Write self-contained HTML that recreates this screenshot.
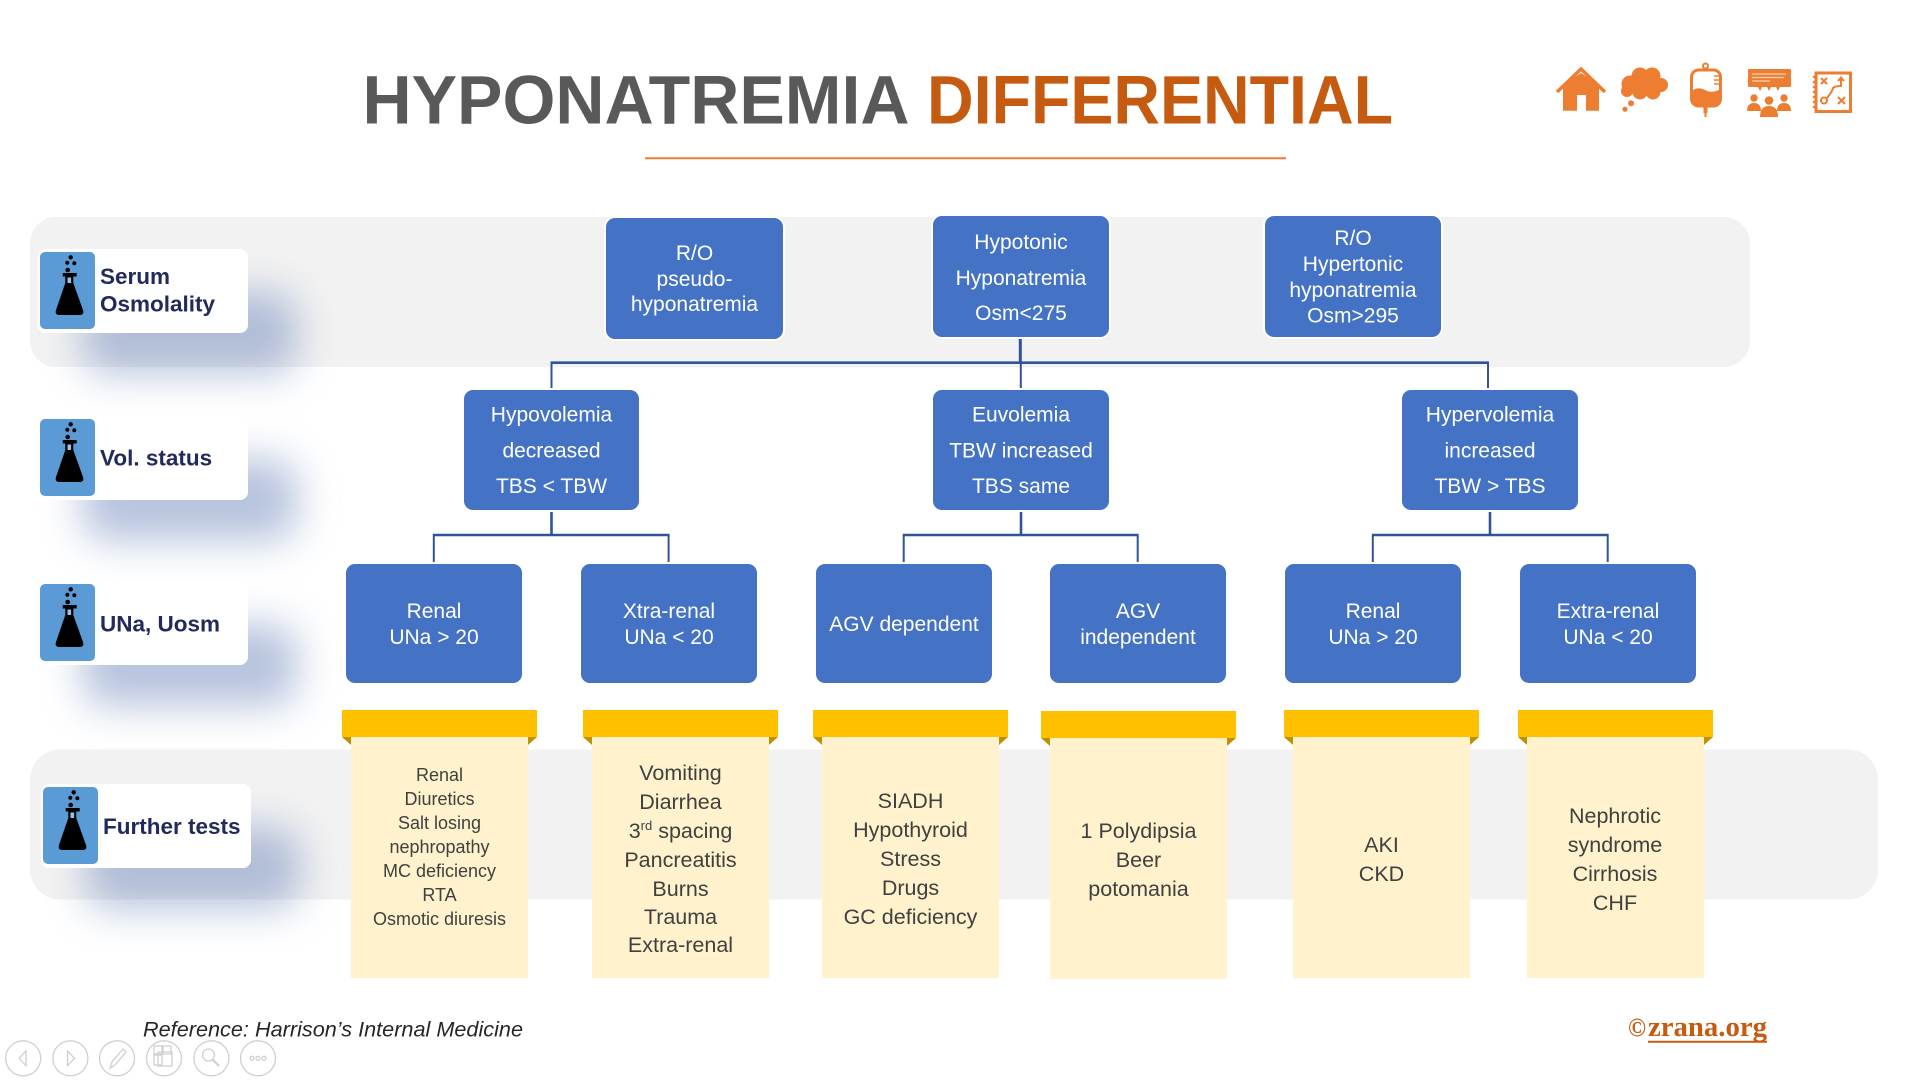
<!DOCTYPE html>
<html>
<head>
<meta charset="utf-8">
<style>
html,body{margin:0;padding:0;background:#fff;}
svg{display:block;}
</style>
</head>
<body>
<svg width="1920" height="1080" viewBox="0 0 1920 1080" xmlns="http://www.w3.org/2000/svg" font-family="'Liberation Sans', sans-serif">
<defs>
  <filter id="sh" x="-80%" y="-80%" width="260%" height="260%">
    <feGaussianBlur stdDeviation="20"/>
  </filter>
  <g id="flask">
    <rect x="0" y="0" width="55" height="77" rx="5" fill="#5B9BD5"/>
    <circle cx="30.7" cy="5.3" r="2.2" fill="#000"/>
    <circle cx="27.3" cy="10.7" r="2" fill="#000"/>
    <circle cx="34.3" cy="11.3" r="2" fill="#000"/>
    <circle cx="27.7" cy="18" r="2.3" fill="#000"/>
    <rect x="22.7" y="21" width="14" height="3.5" fill="#000"/>
    <path d="M25.3,24 L33.3,24 L33.3,31 L43,58 Q44.5,63 39.5,63 L19.5,63 Q14.5,63 16,58 L25.3,31 Z" fill="#000"/>
    <rect x="27.5" y="25.5" width="3.6" height="5.5" fill="#9cc0e6"/>
  </g>
</defs>

<!-- Title -->
<text x="362.5" y="123.3" font-size="69" font-weight="bold" fill="#595959" textLength="547" lengthAdjust="spacingAndGlyphs">HYPONATREMIA</text>
<text x="927" y="123.3" font-size="69" font-weight="bold" fill="#C55A11" textLength="466" lengthAdjust="spacingAndGlyphs">DIFFERENTIAL</text>
<line x1="645" y1="158.3" x2="1286" y2="158.3" stroke="#ED7D31" stroke-width="2"/>

<!-- Top-right icons -->
<g fill="#ED7D31" stroke="none">
  <!-- house -->
  <polyline points="1557,92 1581,69 1605,92" fill="none" stroke="#ED7D31" stroke-width="3.5"/>
  <polygon points="1563,110.7 1563,85 1581,73 1599,85 1599,110.7"/>
  <rect x="1577" y="95" width="9" height="16" fill="#fff"/>
  <!-- cloud -->
  <circle cx="1630" cy="84" r="8.5"/>
  <circle cx="1640" cy="76" r="8.5"/>
  <circle cx="1652" cy="76" r="8.5"/>
  <circle cx="1661" cy="85" r="7"/>
  <circle cx="1653" cy="92" r="7.5"/>
  <circle cx="1640" cy="92" r="7.5"/>
  <circle cx="1627" cy="91" r="6"/>
  <rect x="1630" y="78" width="30" height="16"/>
  <circle cx="1631" cy="103.3" r="3"/>
  <circle cx="1625" cy="109.3" r="2.5"/>
  <!-- IV bag -->
  <circle cx="1705.5" cy="66" r="2.5" fill="none" stroke="#ED7D31" stroke-width="2"/>
  <rect x="1691.5" y="70" width="29" height="36" rx="7" fill="none" stroke="#ED7D31" stroke-width="3"/>
  <path d="M1691.5,91 Q1698,86 1705,90 Q1712,94 1720.5,89 L1720.5,99 Q1720.5,106 1713.5,106 L1698.5,106 Q1691.5,106 1691.5,99 Z"/>
  <line x1="1714" y1="76" x2="1719" y2="76" stroke="#ED7D31" stroke-width="1.5"/>
  <line x1="1714" y1="80" x2="1719" y2="80" stroke="#ED7D31" stroke-width="1.5"/>
  <line x1="1714" y1="84" x2="1719" y2="84" stroke="#ED7D31" stroke-width="1.5"/>
  <rect x="1703.5" y="106" width="4" height="7"/>
  <rect x="1704.5" y="112" width="2" height="5"/>
  <!-- presentation -->
  <rect x="1748" y="69" width="43" height="18" rx="1"/>
  <line x1="1752" y1="74" x2="1786" y2="74" stroke="#fbd5b8" stroke-width="1.2"/>
  <line x1="1752" y1="77.5" x2="1784" y2="77.5" stroke="#fbd5b8" stroke-width="1.2"/>
  <line x1="1752" y1="81" x2="1770" y2="81" stroke="#fbd5b8" stroke-width="1.2"/>
  <polygon points="1758,87 1762,87 1760,91"/>
  <polygon points="1767,87 1771,87 1769,91"/>
  <polygon points="1776,87 1780,87 1778,91"/>
  <circle cx="1754" cy="98" r="3.7"/>
  <circle cx="1784" cy="98" r="3.7"/>
  <circle cx="1769" cy="100.5" r="4.3"/>
  <path d="M1747,111 Q1747,103 1754,103 Q1761,103 1761,111 Z"/>
  <path d="M1777,111 Q1777,103 1784,103 Q1791,103 1791,111 Z"/>
  <path d="M1760,117 Q1760,106 1769,106 Q1778,106 1778,117 Z"/>
  <!-- notebook -->
  <rect x="1816" y="73" width="34.5" height="38.5" fill="#fff" stroke="#ED7D31" stroke-width="3"/>
  <g fill="#ED7D31">
    <circle cx="1814" cy="77" r="1.3"/><circle cx="1814" cy="82" r="1.3"/><circle cx="1814" cy="87" r="1.3"/>
    <circle cx="1814" cy="92" r="1.3"/><circle cx="1814" cy="97" r="1.3"/><circle cx="1814" cy="102" r="1.3"/><circle cx="1814" cy="107" r="1.3"/>
  </g>
  <g stroke="#ED7D31" stroke-width="2" fill="none">
    <line x1="1821" y1="78" x2="1827" y2="84"/><line x1="1827" y1="78" x2="1821" y2="84"/>
    <line x1="1838" y1="97" x2="1845" y2="104"/><line x1="1845" y1="97" x2="1838" y2="104"/>
    <circle cx="1824" cy="100.5" r="3"/>
    <path d="M1827,98 Q1832,92 1833,88 Q1835,86 1841,86 L1841,78"/>
    <polyline points="1838,81 1841,77.5 1844,81"/>
  </g>
</g>

<!-- Gray bands -->
<rect x="30" y="217" width="1720" height="150" rx="26" fill="#F2F2F2"/>
<rect x="30" y="749.5" width="1848" height="150" rx="30" fill="#F2F2F2"/>

<!-- Label card shadows -->
<g fill="#7088BC" opacity="0.5" filter="url(#sh)">
  <rect x="82" y="292" width="215" height="82" rx="24"/>
  <rect x="82" y="459" width="215" height="82" rx="24"/>
  <rect x="82" y="624" width="215" height="82" rx="24"/>
  <rect x="85" y="827" width="215" height="82" rx="24"/>
</g>

<!-- Label cards -->
<g>
  <rect x="38" y="249" width="210" height="84" rx="8" fill="#fff"/>
  <use href="#flask" x="40" y="252"/>
  <text x="100" y="284" font-size="22.5" font-weight="bold" fill="#222A5C">Serum</text>
  <text x="100" y="311.7" font-size="22.5" font-weight="bold" fill="#222A5C">Osmolality</text>

  <rect x="38" y="416" width="210" height="84" rx="8" fill="#fff"/>
  <use href="#flask" x="40" y="419"/>
  <text x="100" y="465.7" font-size="22.5" font-weight="bold" fill="#222A5C">Vol. status</text>

  <rect x="38" y="581" width="210" height="84" rx="8" fill="#fff"/>
  <use href="#flask" x="40" y="584"/>
  <text x="100" y="631.5" font-size="22.5" font-weight="bold" fill="#222A5C">UNa, Uosm</text>

  <rect x="41" y="784" width="210" height="84" rx="8" fill="#fff"/>
  <use href="#flask" x="43" y="787"/>
  <text x="103" y="834" font-size="22.5" font-weight="bold" fill="#222A5C">Further tests</text>
</g>

<!-- Connectors -->
<g stroke="#2F5597" fill="none">
  <line x1="1020.3" y1="337" x2="1020.3" y2="364" stroke-width="3"/>
  <line x1="550.5" y1="362.7" x2="1489" y2="362.7" stroke-width="2.6"/>
  <line x1="551.5" y1="362" x2="551.5" y2="389" stroke-width="2"/>
  <line x1="1020.8" y1="362" x2="1020.8" y2="389" stroke-width="2"/>
  <line x1="1488" y1="362" x2="1488" y2="389" stroke-width="2"/>

  <line x1="551.5" y1="511" x2="551.5" y2="536" stroke-width="2.6"/>
  <line x1="433" y1="535" x2="669.5" y2="535" stroke-width="2.4"/>
  <line x1="433.8" y1="534" x2="433.8" y2="563" stroke-width="2"/>
  <line x1="668.6" y1="534" x2="668.6" y2="563" stroke-width="2"/>

  <line x1="1021" y1="511" x2="1021" y2="536" stroke-width="2.6"/>
  <line x1="903" y1="535" x2="1138.5" y2="535" stroke-width="2.4"/>
  <line x1="903.7" y1="534" x2="903.7" y2="563" stroke-width="2"/>
  <line x1="1137.7" y1="534" x2="1137.7" y2="563" stroke-width="2"/>

  <line x1="1490" y1="511" x2="1490" y2="536" stroke-width="2.6"/>
  <line x1="1372" y1="535" x2="1608.5" y2="535" stroke-width="2.4"/>
  <line x1="1372.8" y1="534" x2="1372.8" y2="563" stroke-width="2"/>
  <line x1="1607.7" y1="534" x2="1607.7" y2="563" stroke-width="2"/>
</g>

<!-- Blue boxes -->
<g fill="#4472C4" stroke="#fff" stroke-width="2">
  <rect x="605" y="217" width="179" height="123" rx="10"/>
  <rect x="932" y="215" width="178" height="123" rx="10"/>
  <rect x="1264" y="215" width="178" height="123" rx="10"/>

  <rect x="463" y="389" width="177" height="122" rx="10"/>
  <rect x="932" y="389" width="178" height="122" rx="10"/>
  <rect x="1401" y="389" width="178" height="122" rx="10"/>

  <rect x="345" y="563" width="178" height="121" rx="10"/>
  <rect x="580" y="563" width="178" height="121" rx="10"/>
  <rect x="815" y="563" width="178" height="121" rx="10"/>
  <rect x="1049" y="563" width="178" height="121" rx="10"/>
  <rect x="1284" y="563" width="178" height="121" rx="10"/>
  <rect x="1519" y="563" width="178" height="121" rx="10"/>
</g>

<g fill="#fff" font-size="21" text-anchor="middle">
  <text x="694.5" y="260">R/O</text>
  <text x="694.5" y="286">pseudo-</text>
  <text x="694.5" y="311">hyponatremia</text>

  <text x="1021" y="249">Hypotonic</text>
  <text x="1021" y="285">Hyponatremia</text>
  <text x="1021" y="320">Osm&lt;275</text>

  <text x="1353" y="245">R/O</text>
  <text x="1353" y="271">Hypertonic</text>
  <text x="1353" y="297">hyponatremia</text>
  <text x="1353" y="322.5">Osm&gt;295</text>

  <text x="551.5" y="421.5">Hypovolemia</text>
  <text x="551.5" y="457.5">decreased</text>
  <text x="551.5" y="493">TBS &lt; TBW</text>

  <text x="1021" y="421.5">Euvolemia</text>
  <text x="1021" y="457.5">TBW increased</text>
  <text x="1021" y="493">TBS same</text>

  <text x="1490" y="421.5">Hypervolemia</text>
  <text x="1490" y="457.5">increased</text>
  <text x="1490" y="493">TBW &gt; TBS</text>

  <text x="434" y="618">Renal</text>
  <text x="434" y="644">UNa &gt; 20</text>
  <text x="669" y="618">Xtra-renal</text>
  <text x="669" y="644">UNa &lt; 20</text>
  <text x="904" y="631">AGV dependent</text>
  <text x="1138" y="618">AGV</text>
  <text x="1138" y="644">independent</text>
  <text x="1373" y="618">Renal</text>
  <text x="1373" y="644">UNa &gt; 20</text>
  <text x="1608" y="618">Extra-renal</text>
  <text x="1608" y="644">UNa &lt; 20</text>
</g>

<!-- Yellow tabs and note cards -->
<g>
  <rect x="351" y="737" width="177" height="241" fill="#FFF2CC"/>
  <rect x="592" y="737" width="177" height="241" fill="#FFF2CC"/>
  <rect x="822" y="737" width="177" height="241" fill="#FFF2CC"/>
  <rect x="1050" y="738" width="177" height="241" fill="#FFF2CC"/>
  <rect x="1293" y="737" width="177" height="241" fill="#FFF2CC"/>
  <rect x="1527" y="737" width="177" height="241" fill="#FFF2CC"/>

  <g fill="#FFC000">
    <rect x="342" y="710" width="195" height="27"/>
    <rect x="583" y="710" width="195" height="27"/>
    <rect x="813" y="710" width="195" height="27"/>
    <rect x="1041" y="711" width="195" height="27"/>
    <rect x="1284" y="710" width="195" height="27"/>
    <rect x="1518" y="710" width="195" height="27"/>
  </g>
  <g fill="#BF9000">
    <polygon points="342,737 351,737 351,745"/><polygon points="528,737 537,737 528,745"/>
    <polygon points="583,737 592,737 592,745"/><polygon points="769,737 778,737 769,745"/>
    <polygon points="813,737 822,737 822,745"/><polygon points="999,737 1008,737 999,745"/>
    <polygon points="1041,738 1050,738 1050,746"/><polygon points="1227,738 1236,738 1227,746"/>
    <polygon points="1284,737 1293,737 1293,745"/><polygon points="1470,737 1479,737 1470,745"/>
    <polygon points="1518,737 1527,737 1527,745"/><polygon points="1704,737 1713,737 1704,745"/>
  </g>
</g>

<g fill="#404040" text-anchor="middle">
  <g font-size="18">
    <text x="439.5" y="781">Renal</text>
    <text x="439.5" y="805">Diuretics</text>
    <text x="439.5" y="829">Salt losing</text>
    <text x="439.5" y="853">nephropathy</text>
    <text x="439.5" y="877">MC deficiency</text>
    <text x="439.5" y="901">RTA</text>
    <text x="439.5" y="925">Osmotic diuresis</text>
  </g>
  <g font-size="21.5">
    <text x="680.5" y="780">Vomiting</text>
    <text x="680.5" y="809">Diarrhea</text>
    <text x="680.5" y="838">3<tspan font-size="13" dy="-8">rd</tspan><tspan dy="8"> spacing</tspan></text>
    <text x="680.5" y="867">Pancreatitis</text>
    <text x="680.5" y="896">Burns</text>
    <text x="680.5" y="924">Trauma</text>
    <text x="680.5" y="952">Extra-renal</text>

    <text x="910.5" y="808">SIADH</text>
    <text x="910.5" y="837">Hypothyroid</text>
    <text x="910.5" y="866">Stress</text>
    <text x="910.5" y="895">Drugs</text>
    <text x="910.5" y="924">GC deficiency</text>

    <text x="1138.5" y="838">1 Polydipsia</text>
    <text x="1138.5" y="867">Beer</text>
    <text x="1138.5" y="896">potomania</text>

    <text x="1381.5" y="852">AKI</text>
    <text x="1381.5" y="881">CKD</text>

    <text x="1615" y="823">Nephrotic</text>
    <text x="1615" y="852">syndrome</text>
    <text x="1615" y="881">Cirrhosis</text>
    <text x="1615" y="910">CHF</text>
  </g>
</g>

<!-- Footer -->
<text x="143" y="1036.7" font-size="21.5" font-style="italic" fill="#262626" textLength="380" lengthAdjust="spacingAndGlyphs">Reference: Harrison’s Internal Medicine</text>

<text x="1628" y="1036" font-family="'Liberation Serif', serif" font-weight="bold" font-size="26" fill="#C55A11" textLength="18" lengthAdjust="spacingAndGlyphs">©</text>
<text x="1648" y="1036" font-family="'Liberation Serif', serif" font-weight="bold" font-size="28" fill="#C55A11" textLength="119" lengthAdjust="spacingAndGlyphs">zrana.org</text>
<line x1="1648" y1="1041.7" x2="1767" y2="1041.7" stroke="#C55A11" stroke-width="2"/>

<!-- Nav circles -->
<g fill="none" stroke="#CFCFCF" stroke-width="1.3">
  <circle cx="23.2" cy="1058.3" r="17.5"/>
  <circle cx="70.4" cy="1058.3" r="17.5"/>
  <circle cx="117" cy="1058.3" r="17.5"/>
  <circle cx="164" cy="1058.3" r="17.5"/>
  <circle cx="211.4" cy="1058.3" r="17.5"/>
  <circle cx="258" cy="1058.3" r="17.5"/>
  <polygon points="26,1051 19,1058.3 26,1065.6"/>
  <polygon points="67.5,1051 74.5,1058.3 67.5,1065.6"/>
  <path d="M110,1068 L112,1062 L123,1049 L126,1052 L115,1065 Z"/>
  <rect x="154" y="1046" width="8" height="8"/>
  <rect x="163" y="1046" width="8" height="8"/>
  <rect x="154" y="1055" width="8" height="10"/>
  <rect x="158" y="1052" width="14" height="14"/>
  <circle cx="208.5" cy="1055" r="6"/>
  <line x1="213" y1="1060" x2="219" y2="1066" stroke-width="2"/>
  <circle cx="252" cy="1058.3" r="2"/>
  <circle cx="258" cy="1058.3" r="2"/>
  <circle cx="264" cy="1058.3" r="2"/>
</g>
</svg>
</body>
</html>
